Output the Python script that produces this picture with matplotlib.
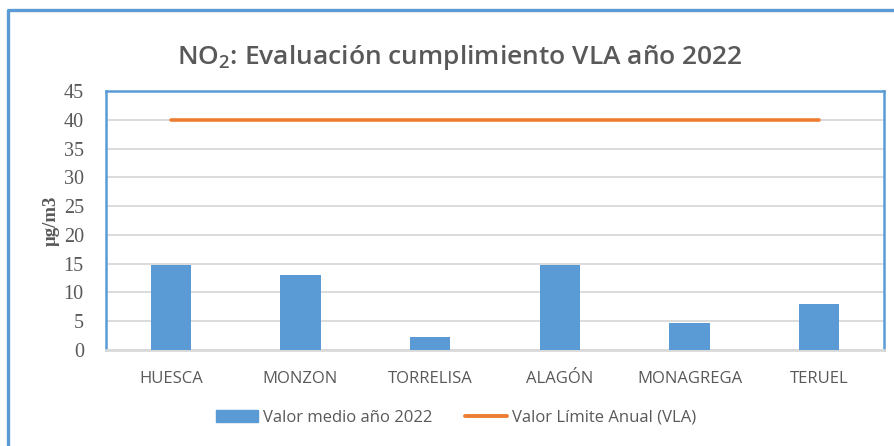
import numpy as np
import matplotlib
matplotlib.use("Agg")
import matplotlib.pyplot as plt
from matplotlib.lines import Line2D
from matplotlib.patches import Patch

# datos NO2 2022
estaciones = ["HUESCA", "MONZON", "TORRELISA", "ALAGÓN", "MONAGREGA", "TERUEL"]
valor_medio = [14.8, 13.0, 2.3, 14.8, 4.7, 8.0]
vla = [40, 40, 40, 40, 40, 40]

azul = "#5B9BD5"
naranja = "#ED7D31"
gris = "#595959"
sans = "Open Sans"
serif = "Liberation Serif"

plt.rcParams["mathtext.fontset"] = "custom"
plt.rcParams["mathtext.rm"] = "Open Sans:semibold"
plt.rcParams["mathtext.bf"] = "Open Sans:semibold"

fig = plt.figure(figsize=(8.94, 4.46), dpi=100)
ax = fig.add_axes([106/894, 1-350/446, (884-106)/894, (350-91)/446])

x = np.arange(len(estaciones))
ax.bar(x, valor_medio, width=0.31, color=azul, zorder=3)
ax.plot(x, vla, color=naranja, lw=2.6, solid_capstyle="round", zorder=4)

ax.set_xlim(-0.5, len(estaciones)-0.5)
ax.set_ylim(0, 45)
ax.set_yticks(range(0, 46, 5))
ax.grid(axis="y", color="#D9D9D9", lw=1.3, zorder=0)
ax.tick_params(length=0)
ax.set_xticks(x)
ax.set_xticklabels(estaciones, fontfamily=sans, fontsize=12, color=gris)
for t in ax.get_yticklabels():
    t.set_fontfamily(serif)
    t.set_fontsize(14.5)
    t.set_color(gris)
ax.tick_params(axis="x", pad=15)
ax.tick_params(axis="y", pad=16)

for s in ["left", "top", "right"]:
    ax.spines[s].set_color(azul)
    ax.spines[s].set_linewidth(1.8)
ax.spines["bottom"].set_color("#D9D9D9")
ax.spines["bottom"].set_linewidth(2)

ax.set_ylabel("μg/m3", fontfamily=serif, fontweight="bold", fontsize=13.5, color=gris, labelpad=3)

fig.text(0.514, 1-58/446, "NO$_\\mathrm{2}$: Evaluación cumplimiento VLA año 2022", ha="center", va="center",
         fontfamily=sans, fontweight="semibold", fontsize=19, color=gris)

handles = [Patch(color=azul), Line2D([0], [0], color=naranja, lw=2.8, solid_capstyle="round")]
fig.legend(handles, ["Valor medio año 2022", "Valor Límite Anual (VLA)"], loc="center",
           bbox_to_anchor=(0.51, 1-418/446), ncol=2, frameon=False, handlelength=2.5,
           columnspacing=2.0, handletextpad=0.3, prop={"family": sans, "size": 12},
           labelcolor=gris)

# marco exterior
fig.add_artist(Line2D([8/894, 8/894, 1], [0, 1-10/446, 1-10/446], color=azul, lw=2.4,
                      transform=fig.transFigure))

fig.savefig("out.png", dpi=100)
